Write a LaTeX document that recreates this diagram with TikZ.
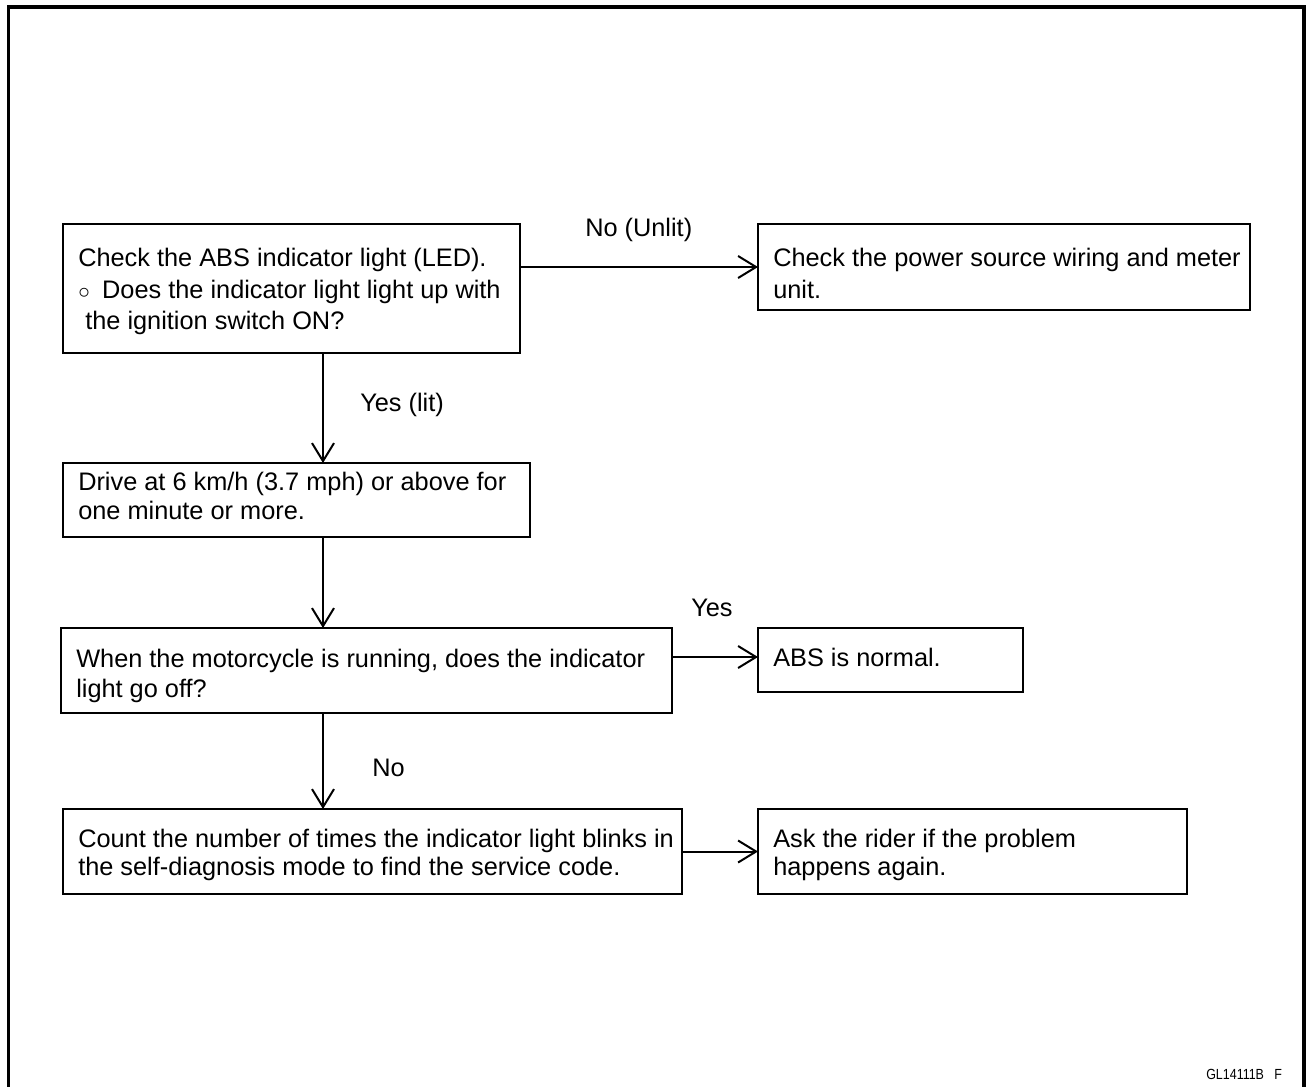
\documentclass[tikz,border=0pt]{standalone}
\usepackage{fontspec}
\setmainfont{Liberation Sans}
\usetikzlibrary{arrows.meta}
\begin{document}
\begin{tikzpicture}[x=0.75pt,y=-0.75pt,
  box/.style={draw,line width=1.5pt,anchor=north west,inner sep=0pt,outer sep=0pt},
  txt/.style={anchor=base west,inner sep=0pt,font=\fontsize{19}{22}\selectfont},
  lbl/.style={anchor=base west,inner sep=0pt,font=\fontsize{19}{22}\selectfont},
  arr/.style={line width=1.5pt,-{Straight Barb[length=13.5pt,width=16.5pt]}}]
\useasboundingbox (0,0) rectangle (1306,1086);
% outer frame (open at the bottom)
\draw[line width=2.5pt] (8.5,1095) -- (8.5,7) -- (1304,7) -- (1304,1095);

% boxes
\node[box,minimum width=457*.75pt,minimum height=129*.75pt] (A) at (63,224) {};
\node[box,minimum width=492*.75pt,minimum height=86*.75pt]  (B) at (758,224) {};
\node[box,minimum width=467*.75pt,minimum height=74*.75pt]  (C) at (63,463) {};
\node[box,minimum width=611*.75pt,minimum height=85*.75pt]  (D) at (61,628) {};
\node[box,minimum width=265*.75pt,minimum height=64*.75pt]  (E) at (758,628) {};
\node[box,minimum width=619*.75pt,minimum height=85*.75pt]  (F) at (63,809) {};
\node[box,minimum width=429*.75pt,minimum height=85*.75pt]  (G) at (758,809) {};

% texts
\node[txt] (A1) at (78,266) {Check the ABS indicator light (LED).};
\node[txt] (A2) at (78,298) {$\circ$\hspace{4pt} Does the indicator light light up with};
\node[txt] (A3) at (78,329) {\ the ignition switch ON?};
\node[txt] (B1) at (773,266) {Check the power source wiring and meter};
\node[txt] (B2) at (773,298) {unit.};
\node[txt] (C1) at (78,490) {Drive at 6 km/h (3.7 mph) or above for};
\node[txt] (C2) at (78,519) {one minute or more.};
\node[txt] (D1) at (76,667) {When the motorcycle is running, does the indicator};
\node[txt] (D2) at (76,697) {light go off?};
\node[txt] (E1) at (773,666) {ABS is normal.};
\node[txt] (F1) at (78,847) {Count the number of times the indicator light blinks in};
\node[txt] (F2) at (78,875) {the self-diagnosis mode to find the service code.};
\node[txt] (G1) at (773,847) {Ask the rider if the problem};
\node[txt] (G2) at (773,875) {happens again.};

% connectors
\coordinate (vx) at (323,0);
\coordinate (ey) at (0,657);
\draw[arr] (A.east |- B.west) -- (B.west);
\draw[arr] (A.south -| vx) -- (C.north -| vx);
\draw[arr] (C.south -| vx) -- (D.north -| vx);
\draw[arr] (D.east |- ey) -- (E.west |- ey);
\draw[arr] (D.south -| vx) -- (F.north -| vx);
\draw[arr] (F.east |- G.west) -- (G.west);

% labels
\node[lbl] (L1) at (585,236) {No (Unlit)};
\node[lbl] (L2) at (360,411) {Yes (lit)};
\node[lbl] (L3) at (691,616) {Yes};
\node[lbl] (L4) at (372,776) {No};
\node[anchor=base west,inner sep=0pt,font=\fontsize{11}{12}\selectfont] (code) at (1206,1079) {\scalebox{0.85}[1]{GL14111B\ \ \ F}};
\end{tikzpicture}
\end{document}
